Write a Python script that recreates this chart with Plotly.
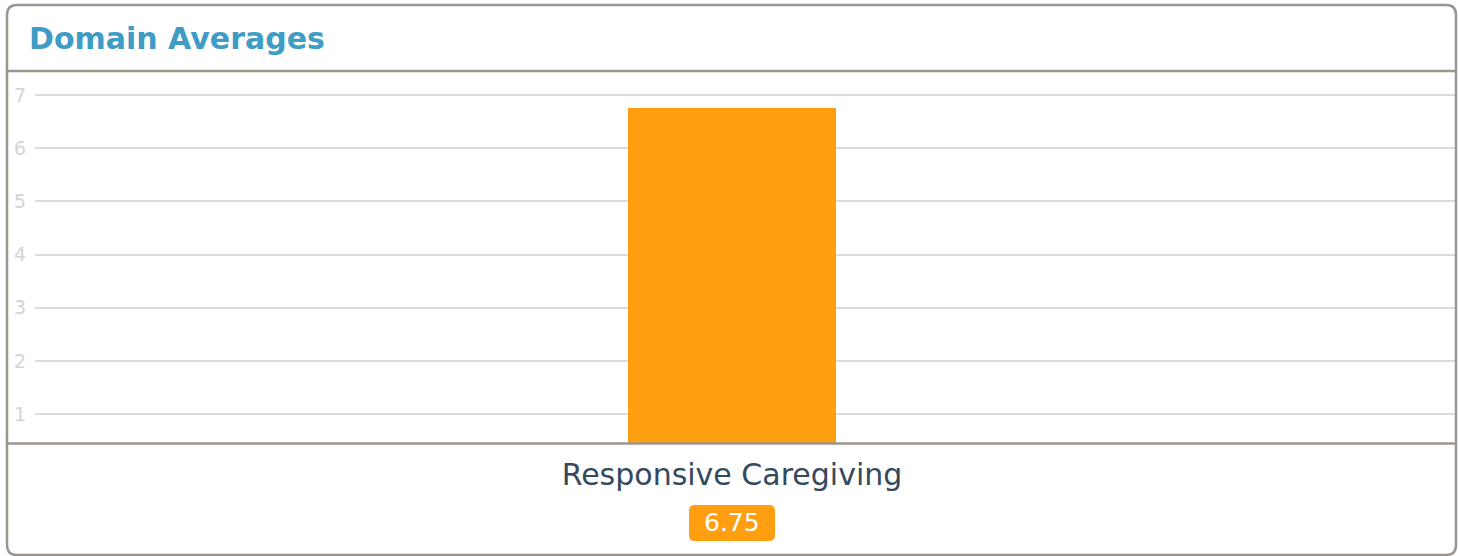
import plotly.graph_objects as go

# ---- data ----
title_text = "Domain Averages"
categories = ["Responsive Caregiving"]
values = [6.75]
y_ticks = [1, 2, 3, 4, 5, 6, 7]

W, H = 1458, 556
L, R, T, B = 35, 2, 72, 113  # plot area px 35..1456, 72..443
pw = W - L - R
ph = H - T - B

def px(x):
    return (x - L) / pw

def py(y):
    return (H - B - y) / ph

BORDER = "#9b958f"
ORANGE = "#FF9F0F"
FONT = "DejaVu Sans"

fig = go.Figure()
fig.add_trace(go.Bar(
    x=categories, y=values, marker=dict(color=ORANGE, line=dict(width=0)),
    width=0.1464, hoverinfo="skip",
))

shapes = []
# card border (rounded rect)
x0, x1, y0, y1 = px(7), px(1456), py(5), py(555)
rx, ry = 10 / pw, 10 / ph
path = (f"M {x0+rx},{y0} L {x1-rx},{y0} Q {x1},{y0} {x1},{y0-ry} "
        f"L {x1},{y1+ry} Q {x1},{y1} {x1-rx},{y1} L {x0+rx},{y1} Q {x0},{y1} {x0},{y1+ry} "
        f"L {x0},{y0-ry} Q {x0},{y0} {x0+rx},{y0} Z")
shapes.append(dict(type="path", xref="paper", yref="paper", path=path,
                   line=dict(color=BORDER, width=2.5), layer="above"))
# header separator & plot bottom line
shapes.append(dict(type="line", xref="paper", yref="paper", x0=px(7), x1=px(1456),
                   y0=py(71), y1=py(71), line=dict(color=BORDER, width=2.5), layer="above"))
shapes.append(dict(type="line", xref="paper", yref="paper", x0=px(7), x1=px(1456),
                   y0=py(443.5), y1=py(443.5), line=dict(color=BORDER, width=2.5), layer="above"))
# value badge (rounded)
bx0, bx1, by0, by1 = px(689), px(775), py(505), py(541)
brx, bry = 6 / pw, 6 / ph
bpath = (f"M {bx0+brx},{by0} L {bx1-brx},{by0} Q {bx1},{by0} {bx1},{by0-bry} "
         f"L {bx1},{by1+bry} Q {bx1},{by1} {bx1-brx},{by1} L {bx0+brx},{by1} Q {bx0},{by1} {bx0},{by1+bry} "
         f"L {bx0},{by0-bry} Q {bx0},{by0} {bx0+brx},{by0} Z")
shapes.append(dict(type="path", xref="paper", yref="paper", path=bpath,
                   fillcolor=ORANGE, line=dict(width=0), layer="above"))

annotations = [
    dict(text=f"<b>{title_text}</b>", xref="paper", yref="paper", x=px(27), y=py(39),
         xanchor="left", yanchor="middle", showarrow=False,
         font=dict(family=FONT, size=30, color="#3f9cc5")),
    dict(text=f"{values[0]:.2f}", xref="paper", yref="paper", x=px(732), y=py(522),
         xanchor="center", yanchor="middle", showarrow=False,
         font=dict(family=FONT, size=25, color="#ffffff")),
]

fig.update_layout(
    width=W, height=H,
    margin=dict(l=L, r=R, t=T, b=B),
    paper_bgcolor="#ffffff", plot_bgcolor="#ffffff",
    showlegend=False, bargap=0,
    shapes=shapes, annotations=annotations,
    xaxis=dict(range=[-0.4905, 0.5095], showgrid=False, zeroline=False, showline=False,
               ticks="", tickfont=dict(family=FONT, size=30, color="#34495e"),
               ticklabelstandoff=11, fixedrange=True),
    yaxis=dict(range=[0.455, 7.433], tickvals=y_ticks, showgrid=True, gridcolor="#dcdcdc",
               gridwidth=2, zeroline=False, showline=False, ticks="",
               tickfont=dict(family=FONT, size=19, color="#d4d4d4"),
               ticklabelstandoff=8, fixedrange=True),
)

fig.write_html("out.html", config={"displayModeBar": False},
               post_script="document.body.style.margin='0';document.body.style.overflow='hidden';")
